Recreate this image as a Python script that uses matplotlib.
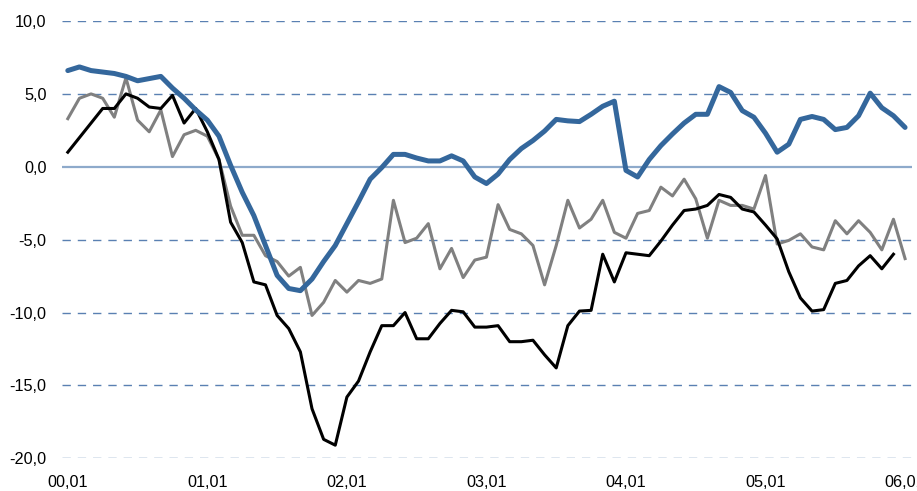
import matplotlib
matplotlib.use("Agg")
from matplotlib import pyplot as plt

plt.rcParams['font.family'] = ['Liberation Sans', 'DejaVu Sans']

# monthly values, 2000-01 .. 2006-01
months = list(range(73))

blue = [6.6, 6.85, 6.6, 6.5, 6.4, 6.2, 5.9, 6.05, 6.2, 5.4, 4.7, 3.9,
        3.2, 2.1, 0.1, -1.75, -3.35, -5.4, -7.45, -8.35, -8.5, -7.7, -6.5, -5.4,
        -3.9, -2.4, -0.85, -0.05, 0.85, 0.85, 0.6, 0.4, 0.4, 0.75, 0.4, -0.7,
        -1.15, -0.5, 0.5, 1.25, 1.8, 2.45, 3.25, 3.15, 3.1, 3.6, 4.15, 4.5,
        -0.25, -0.7, 0.5, 1.45, 2.25, 3.0, 3.6, 3.6, 5.5, 5.1, 3.85, 3.4,
        2.3, 1.0, 1.55, 3.25, 3.45, 3.25, 2.55, 2.7, 3.5, 5.05, 4.05, 3.5,
        2.7]

grey = [3.3, 4.7, 5.0, 4.7, 3.4, 6.1, 3.2, 2.4, 3.9, 0.7, 2.2, 2.5,
        2.1, 0.5, -2.7, -4.7, -4.7, -6.1, -6.5, -7.5, -6.9, -10.2, -9.3, -7.8,
        -8.6, -7.8, -8.0, -7.7, -2.3, -5.2, -4.9, -3.9, -7.0, -5.6, -7.6, -6.4,
        -6.2, -2.6, -4.3, -4.6, -5.4, -8.1, -5.4, -2.3, -4.2, -3.6, -2.3, -4.5,
        -4.9, -3.2, -3.0, -1.4, -2.0, -0.85, -2.2, -4.9, -2.3, -2.65, -2.65, -2.9,
        -0.6, -5.3, -5.05, -4.6, -5.5, -5.7, -3.7, -4.6, -3.7, -4.5, -5.7, -3.6,
        -6.3]

black = [1.0, 2.0, 3.0, 4.0, 4.0, 5.0, 4.7, 4.1, 4.0, 4.9, 3.0, 4.0,
         2.4, 0.5, -3.8, -5.2, -7.9, -8.1, -10.2, -11.1, -12.7, -16.6, -18.7, -19.1,
         -15.8, -14.7, -12.7, -10.9, -10.9, -10.0, -11.8, -11.8, -10.75, -9.85, -9.95, -11.0,
         -11.0, -10.9, -12.0, -12.0, -11.9, -12.9, -13.8, -10.9, -9.9, -9.85, -6.0, -7.9,
         -5.9, -6.0, -6.1, -5.1, -4.0, -3.0, -2.9, -2.65, -1.9, -2.1, -2.9, -3.1,
         -4.0, -4.95, -7.2, -9.0, -9.9, -9.8, -8.0, -7.8, -6.8, -6.1, -7.0, -6.0]

tick_pos = [0, 12, 24, 36, 48, 60, 72]
tick_labels = ["00,01", "01,01", "02,01", "03,01", "04,01", "05,01", "06,01"]
y_ticks = [-20, -15, -10, -5, 0, 5, 10]
y_labels = ["-20,0", "-15,0", "-10,0", "-5,0", "0,0", "5,0", "10,0"]

fig = plt.figure(figsize=(9.17, 4.91), dpi=100)
ax = fig.add_axes([0.0676, 0.0666, 0.927, 0.8906])

# grid
for v in y_ticks:
    if v == 0:
        ax.axhline(v, color='#8eaacb', lw=1.6, zorder=1)
    else:
        ax.axhline(v, color='#5a80b2', lw=1.0, dashes=(6, 5), zorder=1)

ax.plot(months[:len(grey)], grey, color='#808080', lw=2.2, solid_joinstyle='round', zorder=2)
ax.plot(months[:len(black)], black, color='black', lw=2.2, solid_joinstyle='round', zorder=3)
ax.plot(months[:len(blue)], blue, color='#34679c', lw=3.6, solid_joinstyle='round',
        solid_capstyle='round', zorder=4)

ax.set_xlim(-0.5, 72.6)
ax.set_ylim(-20, 10)
ax.set_xticks(tick_pos)
ax.set_xticklabels(tick_labels)
ax.set_yticks(y_ticks)
ax.set_yticklabels(y_labels)
ax.tick_params(length=0, labelsize=11.7, colors='black')
ax.tick_params(axis='y', pad=11)
ax.tick_params(axis='x', pad=12)
for s in ax.spines.values():
    s.set_visible(False)

plt.savefig("out.png", dpi=100)
